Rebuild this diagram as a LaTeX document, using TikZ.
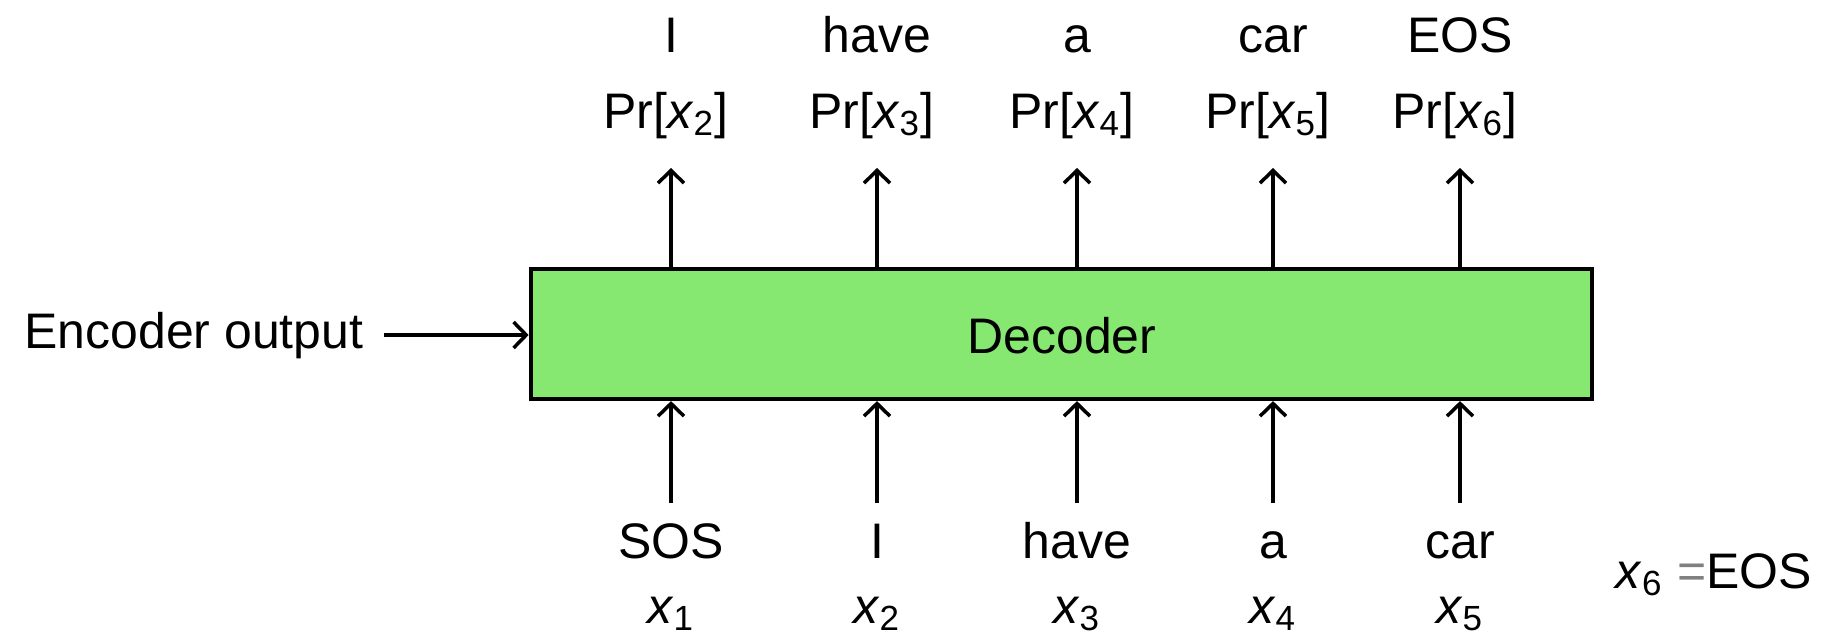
\documentclass[tikz,border=0pt]{standalone}
\usepackage{fontspec}
\setmainfont{Liberation Sans}
\usetikzlibrary{arrows.meta}
\definecolor{decgreen}{RGB}{134,232,112}
\newcommand{\xv}[1]{\textit{x}\textsubscript{#1}}
\begin{document}
\begin{tikzpicture}[x=0.01cm,y=-0.01cm,
  lbl/.style={inner sep=0pt,anchor=base,font=\fontsize{14.2pt}{17pt}\selectfont},
  arr/.style={line width=1pt,-{Straight Barb[length=3.6pt,width=7.4pt,line width=1pt]}},
  decbox/.style={draw=black,line width=1.15pt,fill=decgreen,inner sep=0pt,
    minimum width=10.61cm,minimum height=1.30cm}]
\useasboundingbox (0,0) rectangle (1832,636);
% decoder box
\node[decbox] (dec) at (1061.5,334) {};
\node[lbl] (dectxt) at (1062,353) {Decoder};
% encoder output
\node[lbl,anchor=base east] (enc) at (364,348) {Encoder output};
\coordinate (encA) at (384,335);
\draw[arr] (encA) -- (encA -| dec.west);
% columns
\foreach \i/\xx/\top/\pr/\bot/\xl in {
  1/671/I/\xv{2}/SOS/\xv{1},
  2/877/have/\xv{3}/I/\xv{2},
  3/1077/a/\xv{4}/have/\xv{3},
  4/1273/car/\xv{5}/a/\xv{4},
  5/1460/EOS/\xv{6}/car/\xv{5}}{
  \node[lbl] (top\i) at (\xx,52) {\top};
  \node[lbl] (pr\i) at (\xx-5,128) {Pr[\pr]};
  \coordinate (tip\i) at (\xx,168);
  \draw[arr] (tip\i |- dec.north) -- (tip\i);
  \coordinate (st\i) at (\xx,503);
  \draw[arr] (st\i) -- (st\i |- dec.south);
  \node[lbl] (bot\i) at (\xx,558) {\bot};
  \node[lbl] (xl\i) at (\xx,623) {\xl};
}
% x6 = EOS
\node[lbl,anchor=base west] (x6) at (1615,588) {\xv{6} {\color{gray}=}EOS};
\end{tikzpicture}
\end{document}
